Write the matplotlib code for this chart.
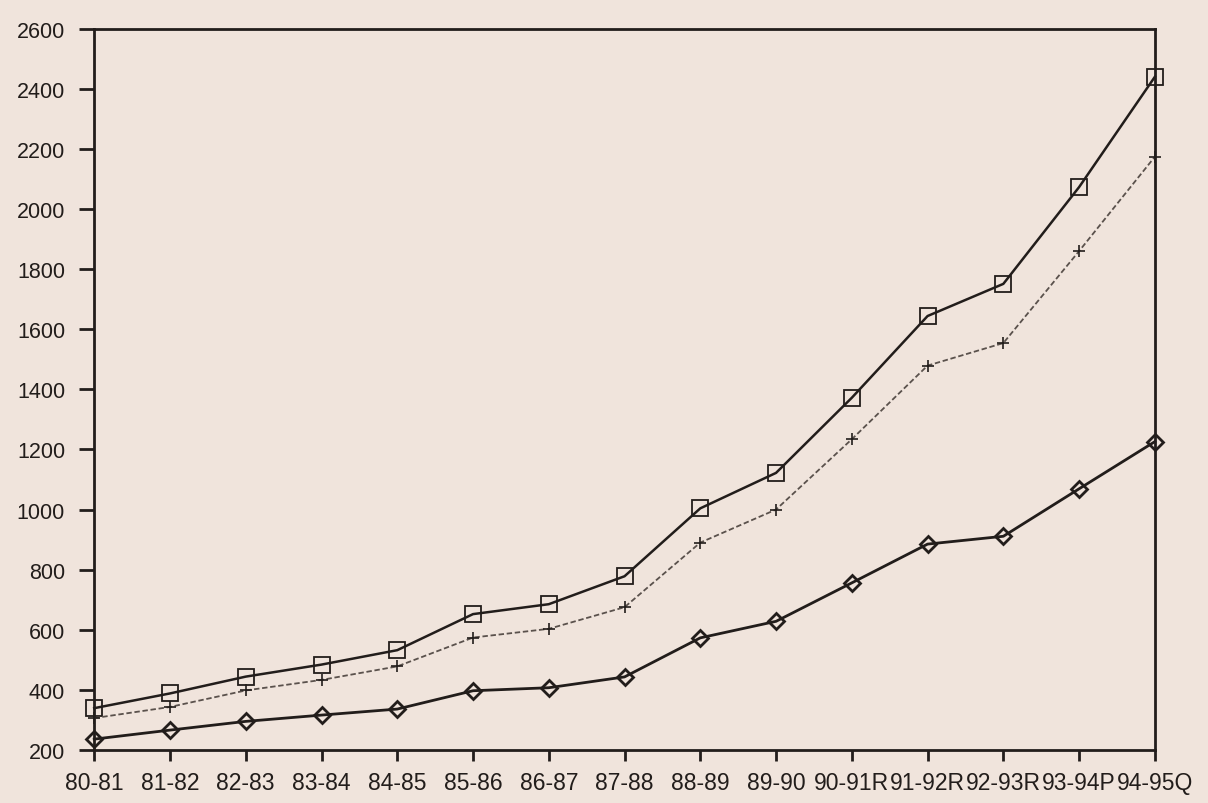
import numpy as np
import matplotlib.pyplot as plt

years = ["80-81", "81-82", "82-83", "83-84", "84-85", "85-86", "86-87", "87-88",
         "88-89", "89-90", "90-91R", "91-92R", "92-93R", "93-94P", "94-95Q"]

# three series
squares = [339, 388, 444, 484, 532, 652, 685, 778, 1004, 1122, 1372, 1644, 1751, 2073, 2440]
pluses = [306, 343, 398, 433, 478, 574, 603, 675, 890, 1000, 1234, 1479, 1554, 1860, 2174]
diamonds = [236, 266, 295, 316, 336, 397, 407, 443, 573, 628, 756, 885, 911, 1069, 1226]

paper = '#f0e4dc'
ink = '#221d1b'

plt.rcParams['font.family'] = ['Liberation Sans', 'DejaVu Sans']

fig = plt.figure(figsize=(12.08, 8.04), dpi=100, facecolor=paper)
ax = fig.add_axes([0.078, 0.066, 0.878, 0.897], facecolor=paper)

x = np.arange(len(years))

ax.plot(x, squares, '-', color=ink, lw=1.8, marker='s', ms=11,
        mfc='none', mec=ink, mew=1.3, clip_on=False, zorder=3)
ax.plot(x, pluses, linestyle=(0, (3, 1.5)), color='#5a514c', lw=1.3,
        marker='+', ms=9, mec=ink, mew=1.2, clip_on=False, zorder=3)
ax.plot(x, diamonds, '-', color=ink, lw=2.0, marker='D', ms=8,
        mfc='none', mec=ink, mew=2.0, clip_on=False, zorder=3)

ax.set_xlim(0, len(years) - 1)
ax.set_ylim(200, 2600)
ax.set_yticks(np.arange(200, 2601, 200))
ax.set_xticks(x)
ax.set_xticklabels(years)

for s in ax.spines.values():
    s.set_color(ink)
    s.set_linewidth(2.0)

ax.tick_params(axis='y', direction='out', length=11, width=2.0, color=ink,
               labelsize=15.5, labelcolor=ink, pad=10)
ax.tick_params(axis='x', direction='out', length=8, width=2.0, color=ink,
               labelsize=16.5, labelcolor=ink, pad=7)

fig.savefig("out.png", dpi=100, facecolor=paper)
